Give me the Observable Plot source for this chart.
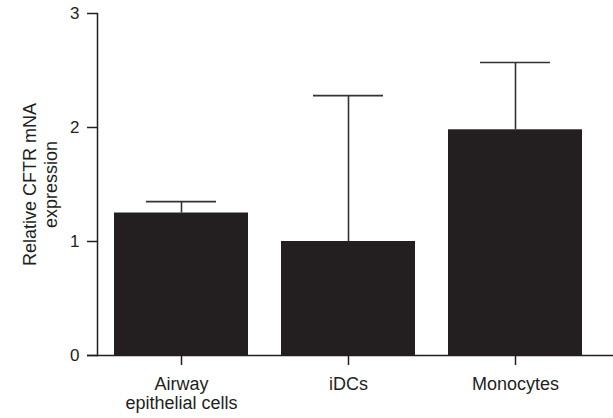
<!DOCTYPE html>
<html>
<head>
<meta charset="utf-8">
<script src="https://cdn.jsdelivr.net/npm/d3@7"></script>
<script src="https://cdn.jsdelivr.net/npm/@observablehq/plot@0.6"></script>
<style>
  html, body { margin: 0; padding: 0; background: #fff; }
  #chart svg { display: block; }
</style>
</head>
<body>
<div id="chart"></div>
<script>
const categories = ["Airway\nepithelial cells", "iDCs", "Monocytes"];
const values = [1.25, 1.00, 1.98];
const errors = [0.10, 1.28, 0.59];
const yTicks = [0, 1, 2, 3];
const yLabel = "Relative CFTR mNA\nexpression";

const data = categories.map((c, i) => ({cat: c, value: values[i], upper: values[i] + errors[i]}));

const ink = "#231F20";
const font = "'Liberation Sans', Arial, Helvetica, sans-serif";

const chart = Plot.plot({
  width: 613,
  height: 418,
  marginTop: 13,
  marginBottom: 63,
  marginLeft: 97,
  marginRight: 14,
  style: {fontFamily: font, color: ink, background: "#fff"},
  x: {domain: categories, paddingInner: 0.2, paddingOuter: 0.1, label: null},
  y: {domain: [0, 3], label: null},
  marks: [
    Plot.barY(data, {x: "cat", y: "value", fill: ink}),
    Plot.ruleX(data, {x: "cat", y1: "value", y2: "upper", stroke: "#333", strokeWidth: 1.6}),
    Plot.tickY(data, {x: "cat", y: "upper", stroke: "#333", strokeWidth: 1.6, inset: 32}),
    Plot.frame({anchor: "left", stroke: ink, strokeWidth: 1.5}),
    Plot.ruleY([0], {stroke: ink, strokeWidth: 1.5, insetLeft: -10, insetRight: -14}),
    Plot.axisY({ticks: yTicks, tickSize: 10, tickPadding: 8, fontSize: 17, tickFormat: d3.format("d"), stroke: ink, strokeWidth: 1.5, label: null}),
    Plot.axisX({tickSize: 10, tickPadding: 10, fontSize: 18, lineHeight: 1.1, stroke: ink, strokeWidth: 1.5, label: null}),
    Plot.text([yLabel], {frameAnchor: "left", rotate: -90, dx: -58, fontSize: 18, lineHeight: 1.2, textAnchor: "middle", fill: ink})
  ]
});
document.getElementById("chart").appendChild(chart);
</script>
</body>
</html>
